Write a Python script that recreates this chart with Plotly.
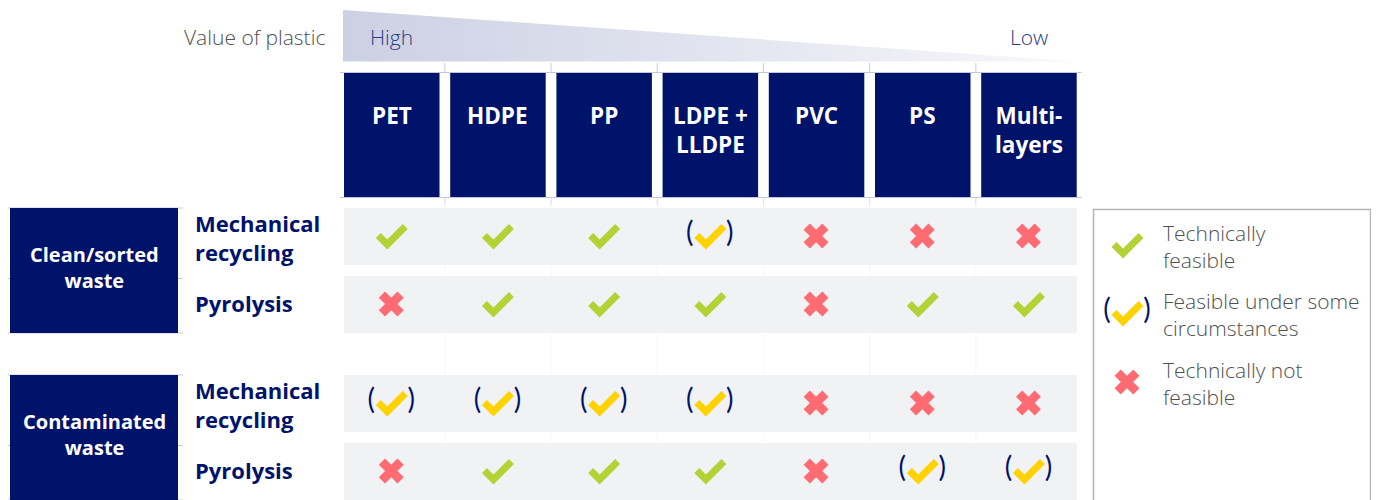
import plotly.graph_objects as go

# ---------------- data ----------------
materials = ["PET", "HDPE", "PP", "LDPE +<br>LLDPE", "PVC", "PS", "Multi-<br>layers"]
waste_types = ["Clean/sorted<br>waste", "Contaminated<br>waste"]
processes = ["Mechanical<br>recycling", "Pyrolysis"]
# Y = technically feasible, S = feasible under some circumstances, N = technically not feasible
clean_mechanical = ["Y", "Y", "Y", "S", "N", "N", "N"]
clean_pyrolysis = ["N", "Y", "Y", "Y", "N", "Y", "Y"]
contaminated_mechanical = ["S", "S", "S", "S", "N", "N", "N"]
contaminated_pyrolysis = ["N", "Y", "Y", "Y", "N", "S", "S"]
legend_codes = ["Y", "S", "N"]
legend_labels = ["Technically<br>feasible", "Feasible under some<br>circumstances", "Technically not<br>feasible"]
scale_title = "Value of plastic"
scale_high = "High"
scale_low = "Low"

matrix = [[clean_mechanical, clean_pyrolysis], [contaminated_mechanical, contaminated_pyrolysis]]

# ---------------- styles / layout ----------------
NAVY = "#00136b"
GREEN = "#b3d236"
YELLOW = "#ffd200"
RED = "#ff6b72"
BAND = "#f1f2f4"
GRID_FAINT = "#f5f6f8"
GRID = "#c8cbe0"
GRAY_TXT = "#505050"
SCALE_TXT = "#2c3b86"
FONT_B = "'Open Sans', Lato, sans-serif"
FONT_L = "'Open Sans', Lato, sans-serif"

PAGE_OFF = 8  # browser default body margin

COL_X0, COL_W, COL_PITCH = 344, 95.5, 106.2
HEAD_Y0, HEAD_Y1 = 73, 197
ROW_TOP0, GROUP_STEP, ROW_STEP, ROW_H = 208, 167, 68, 57
GROUP_X0, GROUP_X1 = 10, 178
TABLE_X1 = COL_X0 + 6 * COL_PITCH + COL_W


def col_center(i):
    return COL_X0 + COL_W / 2 + i * COL_PITCH


def row_top(g, p):
    return ROW_TOP0 + g * GROUP_STEP + p * ROW_STEP


shapes = []
annotations = []

# vertical faint grid at column boundaries
for i in range(1, len(materials)):
    xb = COL_X0 + i * COL_PITCH - (COL_PITCH - COL_W) / 2
    shapes.append(dict(type="line", x0=xb, x1=xb, y0=HEAD_Y1, y1=500, line=dict(color=GRID_FAINT, width=1), layer="below"))
    shapes.append(dict(type="line", x0=xb, x1=xb, y0=63, y1=HEAD_Y0, line=dict(color=GRID, width=1), layer="below"))
    shapes.append(dict(type="line", x0=xb, x1=xb, y0=HEAD_Y1, y1=205, line=dict(color="#dcdfea", width=1), layer="below"))
# horizontal lines around header
for yy in (HEAD_Y0 - 0.5, HEAD_Y1 + 0.5):
    shapes.append(dict(type="line", x0=340, x1=TABLE_X1 + 5, y0=yy, y1=yy, line=dict(color="#c3c7dd", width=1), layer="below"))

# header boxes
for i, m in enumerate(materials):
    x0 = COL_X0 + i * COL_PITCH
    shapes.append(dict(type="rect", x0=x0, x1=x0 + COL_W, y0=HEAD_Y0, y1=HEAD_Y1, fillcolor=NAVY, line=dict(width=0), layer="below"))
    annotations.append(dict(x=col_center(i), y=HEAD_Y0 + 25, text=m, showarrow=False, xanchor="center", yanchor="top",
                            font=dict(family=FONT_B, size=22.5, color="white", weight="bold")))

# row bands, group boxes, labels
for g, wt in enumerate(waste_types):
    gtop = row_top(g, 0)
    gbot = row_top(g, 1) + ROW_H
    for yy in (gtop, (gtop + gbot) / 2 + 8, gbot):
        shapes.append(dict(type="line", x0=5, x1=183, y0=yy, y1=yy, line=dict(color="#c8cbe0", width=1), layer="below"))
    shapes.append(dict(type="rect", x0=GROUP_X0, x1=GROUP_X1, y0=gtop, y1=gbot, fillcolor=NAVY, line=dict(width=0)))
    annotations.append(dict(x=(GROUP_X0 + GROUP_X1) / 2, y=gtop + 59, text=wt, showarrow=False, xanchor="center", yanchor="middle",
                            font=dict(family=FONT_B, size=20, color="white", weight="bold")))
    for p, pr in enumerate(processes):
        t = row_top(g, p)
        shapes.append(dict(type="rect", x0=COL_X0, x1=TABLE_X1, y0=t, y1=t + ROW_H, fillcolor=BAND, line=dict(width=0), layer="below"))
        ly = t + ROW_H / 2 + 1 if "<br>" in pr else t + ROW_H / 2 - 2
        annotations.append(dict(x=193, y=ly, text=pr, showarrow=False, xanchor="left", yanchor="middle", align="left",
                                font=dict(family=FONT_B, size=22, color=NAVY, weight="bold")))

# collect symbol positions
pos = {"Y": [], "S": [], "N": []}
for g in range(2):
    for p in range(2):
        cy = row_top(g, p) + ROW_H / 2 - 0.5
        for i, code in enumerate(matrix[g][p]):
            pos[code].append((col_center(i) - 0.5, cy))

LEG_X = 1127
leg_y = [245, 313, 382]
for code, ly in zip(legend_codes, leg_y):
    pos[code].append((LEG_X, ly))


def check_path(points):
    xs, ys = [], []
    for cx, cy in points:
        xs += [cx - 13, cx - 4, cx + 14, None]
        ys += [cy - 0.5, cy + 8.5, cy - 9.5, None]
    return xs, ys


fig = go.Figure()

# value-of-plastic gradient wedge
fig.add_trace(go.Scatter(x=[343, 1077, 343, 343], y=[10, 61.5, 61.5, 10], mode="lines", fill="toself",
                         line=dict(width=0), fillgradient=dict(type="horizontal", colorscale=[[0, "#ccd0e3"], [1, "#f8f8fb"]]),
                         hoverinfo="skip", showlegend=False))

gx, gy = check_path(pos["Y"])
fig.add_trace(go.Scatter(x=gx, y=gy, mode="lines", line=dict(color=GREEN, width=7), hoverinfo="skip", showlegend=False))
yx, yy_ = check_path(pos["S"])
fig.add_trace(go.Scatter(x=yx, y=yy_, mode="lines", line=dict(color=YELLOW, width=7), hoverinfo="skip", showlegend=False))
px = []
py = []
pt = []
for cx, cy in pos["S"]:
    px += [cx - 20, cx + 20]
    py += [cy - 1, cy - 1]
    pt += ["(", ")"]
fig.add_trace(go.Scatter(x=px, y=py, mode="text", text=pt, textposition="middle center",
                         textfont=dict(family="Lato, sans-serif", size=28, color=NAVY), hoverinfo="skip", showlegend=False))
fig.add_trace(go.Scatter(x=[c[0] for c in pos["N"]], y=[c[1] for c in pos["N"]], mode="markers",
                         marker=dict(symbol="x", size=22, color=RED, line=dict(width=0)), hoverinfo="skip", showlegend=False))

# legend box
shapes.append(dict(type="rect", x0=1093.5, x1=1370.5, y0=209.5, y1=520, fillcolor="white", line=dict(color="#b5b5b5", width=1.5), layer="below"))
for lbl, ly in zip(legend_labels, leg_y):
    annotations.append(dict(x=1161, y=ly + 1, text=lbl, showarrow=False, xanchor="left", yanchor="middle", align="left",
                            font=dict(family=FONT_L, size=21, color=GRAY_TXT, weight=300)))

# scale labels
annotations.append(dict(x=327, y=37, text=scale_title, showarrow=False, xanchor="right", yanchor="middle",
                        font=dict(family=FONT_L, size=21, color=GRAY_TXT, weight=300)))
annotations.append(dict(x=368, y=37, text=scale_high, showarrow=False, xanchor="left", yanchor="middle",
                        font=dict(family=FONT_L, size=21, color=SCALE_TXT, weight=300)))
annotations.append(dict(x=1050, y=37, text=scale_low, showarrow=False, xanchor="right", yanchor="middle",
                        font=dict(family=FONT_L, size=21, color=SCALE_TXT, weight=300)))

fig.update_layout(
    width=1379 - PAGE_OFF, height=500 - PAGE_OFF, margin=dict(l=0, r=0, t=0, b=0),
    plot_bgcolor="white", paper_bgcolor="white",
    xaxis=dict(range=[PAGE_OFF, 1379], visible=False, fixedrange=True),
    yaxis=dict(range=[500, PAGE_OFF], visible=False, fixedrange=True),
    shapes=shapes, annotations=annotations, showlegend=False,
)
fig.write_html("out.html")
